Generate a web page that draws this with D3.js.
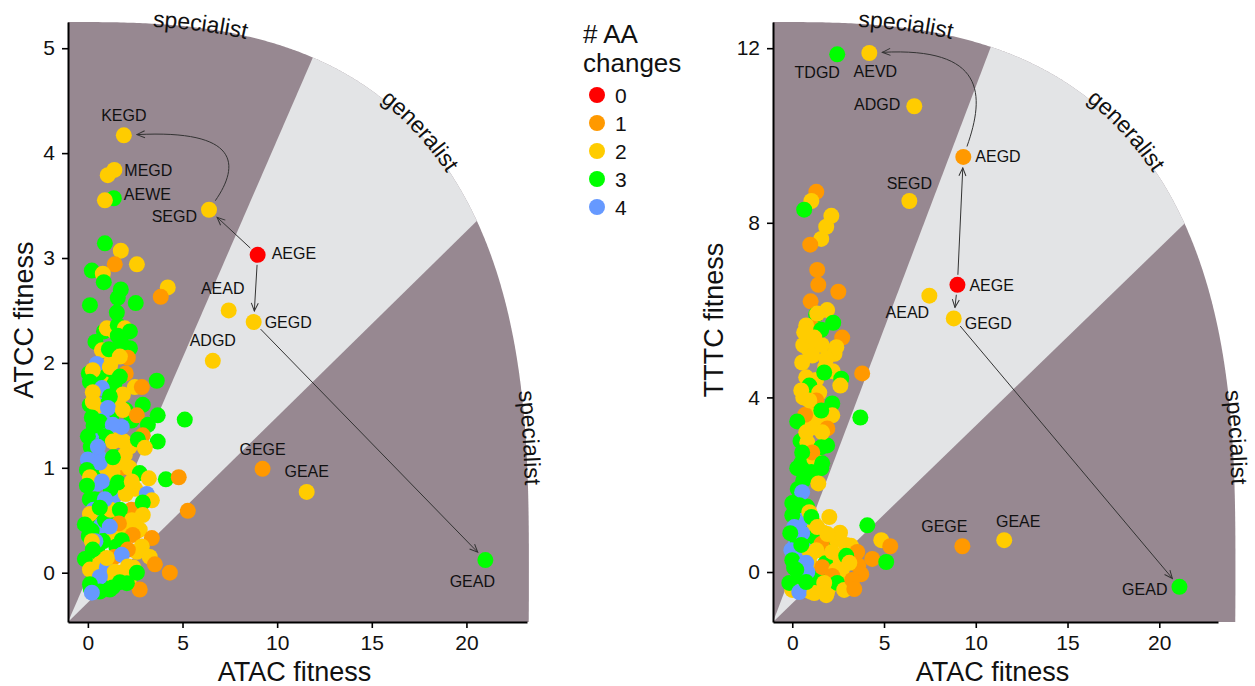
<!DOCTYPE html>
<html>
<head>
<meta charset="utf-8">
<script src="https://cdn.jsdelivr.net/npm/d3@7"></script>
<style>
  body { margin: 0; background: #fff; }
  svg { display: block; font-family: "Liberation Sans", Arial, sans-serif; }
</style>
</head>
<body>
<div id="chart"></div>
<script>
// ---------------- data ----------------
const aaLevels = [0, 1, 2, 3, 4];
const aaColors = ["#ff0000", "#ff9900", "#ffcc00", "#00ff00", "#6699ff"];
const xTicks = [0, 5, 10, 15, 20];
const atccTicks = [0, 1, 2, 3, 4, 5];
const tttcTicks = [0, 4, 8, 12];
const regionNames = ["specialist", "generalist", "specialist"];

// [ATAC fitness, ATCC fitness, # AA changes]
const atccCloud = [
  [0.05,1.9,3],[0.35,1.75,3],[0.7,1.6,3],[1.25,1.5,3],[0.45,1.05,3],[0.75,0.95,3],[0.05,0.35,3],
  [0.45,0.5,3],[1.05,0.35,3],[1.3,0.55,3],[0.15,-0.15,3],[0.95,-0.05,3],[1.9,0.55,3],[2.3,1.45,3],
  [1.75,2.2,3],[0.85,2.3,3],[0.4,2.2,3],[1.1,1.9,3],[2.0,1.55,3],[0.55,0.0,3],
  [1.2,2.0,2],[1.6,1.6,2],[2.2,1.2,2],[2.5,0.8,2],[1.6,0.8,2],[0.95,1.0,2],[2.1,0.4,2],[1.4,0.35,2],
  [2.6,0.2,2],[0.35,0.15,2],[1.25,-0.05,2],[2.2,-0.05,2],[0.85,1.8,2],[1.4,2.3,2],
  [0.25,1.3,4],[0.55,1.6,4],[0.2,0.85,4],[0.7,0.45,4],[0.35,-0.18,4],[1.3,0.7,4],
  [1.8,1.0,1],[2.0,1.9,1],
  [0.1,1.6,3],[0.3,1.4,3],[0.5,1.2,3],[0.2,1.0,3],[0.4,0.7,3],[0.2,0.4,3],[0.5,0.2,3],[0.3,-0.05,3],
  [0.8,0.3,3],[1.2,0.8,3],[1.0,1.6,3],[0.6,1.9,3],[1.4,1.1,3],[0.9,0.5,3],[1.5,0.25,3],[0.7,-0.12,3],
  [1.3,-0.14,3],[0.4,-0.16,3],[0.9,1.35,3],[1.4,1.8,3],[0.1,0.7,3],[0.15,1.2,3],
  [1.5,1.35,2],[1.7,1.05,2],[2.0,0.75,2],[1.9,0.35,2],[1.2,0.6,2],[0.6,1.55,2],[1.7,0.0,2],[2.4,0.05,2],
  [1.3,0.95,2],[0.7,0.1,2],[2.2,1.0,2],[1.9,1.25,2],
  [0.5,0.85,4],[0.3,0.6,4],[0.8,1.45,4],[0.4,0.3,4],[1.0,0.05,4],[0.6,1.1,4],[0.9,0.7,4],[0.3,-0.1,4],
  [2.6,0.4,1],[1.4,0.15,1],[2.3,0.6,1],
  [0.90,3.14,3],[1.74,3.07,2],[1.42,2.94,1],[2.59,2.94,2],[0.21,2.88,3],[0.79,2.85,2],[0.84,2.77,3],
  [4.22,2.72,2],[3.85,2.63,1],[1.74,2.70,3],[1.58,2.62,3],[2.53,2.57,3],[0.11,2.55,3],[1.53,2.48,3],
  [1.00,2.33,2],[1.58,2.36,3],[1.95,2.33,2],[2.22,2.30,3],[1.58,2.26,3],[0.74,2.12,2],[1.11,2.13,3],
  [2.22,2.14,3],[2.11,2.05,1],[1.69,2.06,2],[0.47,1.99,4],[0.26,1.93,2],[1.16,1.96,2],[1.69,1.87,3],
  [0.11,1.82,3],[3.64,1.83,3],[2.48,1.77,2],[2.85,1.77,1],[0.74,1.76,4],[0.26,1.72,2],[1.85,1.70,2],
  [1.16,1.68,3],[0.26,1.63,2],[2.90,1.60,3],[1.06,1.57,4],[1.85,1.55,2],[2.59,1.50,1],[3.69,1.50,3],
  [5.12,1.46,3],[0.21,1.48,3],[0.63,1.44,3],[1.79,1.39,4],[1.32,1.41,4],[3.17,1.41,3],[0.00,1.30,3],
  [1.00,1.29,3],[2.90,1.31,1],[1.32,1.25,2],[3.69,1.25,3],[2.64,1.27,3],[3.01,1.19,2],[0.53,1.20,4],
  [0.00,1.08,4],[1.95,1.12,2],[0.63,1.05,4],[1.32,1.10,3],[-0.05,0.98,3],[0.11,0.91,2],[2.74,0.95,3],
  [3.22,0.90,2],[4.12,0.89,3],[4.80,0.91,1],[0.74,0.87,4],[1.58,0.86,3],[2.32,0.87,2],[-0.05,0.83,3],
  [3.11,0.75,4],[3.38,0.69,2],[2.90,0.67,3],[5.28,0.59,1],[0.11,0.56,2],[0.63,0.62,3],[1.69,0.60,3],
  [2.90,0.55,2],[2.32,0.50,2],[1.64,0.47,1],[-0.16,0.46,3],[1.16,0.44,4],[2.74,0.41,2],[2.37,0.36,1],
  [3.38,0.33,1],[1.79,0.31,3],[0.21,0.30,2],[2.85,0.25,2],[2.11,0.22,1],[0.26,0.22,3],[1.79,0.17,4],
  [1.00,0.14,2],[3.27,0.15,2],[-0.16,0.13,3],[3.54,0.08,1],[2.11,0.06,2],[4.33,0.00,1],[0.11,0.03,2],
  [2.59,0.00,3],[1.42,0.01,2],[0.63,-0.04,4],[1.69,-0.09,3],[0.11,-0.11,3],[2.74,-0.16,1],[0.63,-0.18,3],
  [1.16,-0.16,3],[0.21,-0.19,4],[2.06,-0.10,3],[1.05,3.79,2],[0.90,3.55,2]
];

// [name, ATAC fitness, ATCC fitness, # AA changes]
const atccMarked = [
  ["KEGD",1.90,4.17,2],["MEGD",1.40,3.84,2],["AEWE",1.37,3.57,3],["SEGD",6.40,3.46,2],
  ["AEGE",8.97,3.03,0],["AEAD",7.44,2.50,2],["GEGD",8.76,2.39,2],["ADGD",6.60,2.02,2],
  ["GEGE",9.23,0.99,1],["GEAE",11.56,0.77,2],["GEAD",21.0,0.12,3]
];
const atccSteps = [["AEGE","SEGD"],["AEGE","GEGD"],["GEGD","GEAD"]];
const atccCurved = [["SEGD","KEGD"]];

// [ATAC fitness, TTTC fitness, # AA changes]
const tttcCloud = [
  [0.1,0.1,3],[0.4,0.4,2],[0.7,0.8,3],[1.0,0.15,2],[1.3,-0.3,3],[1.7,0.9,2],[2.0,0.55,3],[2.3,0.2,2],
  [2.7,0.05,2],[3.0,-0.2,2],[0.25,-0.35,3],[0.6,-0.35,2],[1.0,-0.45,2],[1.5,-0.1,3],[0.15,0.6,4],
  [0.45,1.0,3],[0.8,1.5,3],[1.2,1.1,2],[0.3,1.9,3],[2.4,0.75,2],[3.2,0.6,2],[3.6,0.15,1],[1.9,-0.45,2],
  [0.65,0.55,4],[0.5,2.5,3],[1.2,2.6,2],[0.9,3.4,2],[1.6,3.45,2],[0.6,4.0,2],[1.3,4.4,2],[2.2,4.6,2],
  [0.6,5.2,2],[1.6,5.2,2],[1.9,6.0,2],[1.0,6.2,1],[0.45,3.0,3],
  [0.3,0.7,3],[0.6,0.3,2],[1.2,0.8,3],[0.2,0.3,4],[1.5,0.5,2],[0.9,-0.2,3],[2.6,0.9,2],[1.8,0.2,3],
  [0.5,1.2,4],[0.9,5.1,2],[1.3,5.9,3],[1.8,4.7,2],[1.1,5.6,1],[1.2,3.6,2],[0.7,3.6,1],[2.3,5.0,2],
  [1.9,2.9,3],[1.6,0.65,1],[2.1,-0.3,2],[0.4,-0.1,3],[1.0,0.4,2],[0.2,1.6,3],[0.6,2.1,3],
  [1.31,8.71,1],[1.04,8.50,2],[0.65,8.30,3],[2.13,8.16,2],[1.85,7.91,2],[1.58,7.63,2],[0.98,7.50,1],
  [1.36,6.92,1],[1.42,6.58,1],[2.51,6.42,1],[1.36,5.92,2],[0.76,5.65,2],[2.23,5.71,3],[1.58,5.55,3],
  [2.72,5.37,1],[0.65,5.49,2],[1.20,5.37,2],[2.40,5.15,2],[3.81,4.55,1],[0.54,4.80,2],[1.09,4.96,2],
  [1.85,4.89,2],[1.74,4.57,3],[0.76,4.46,2],[2.67,4.43,3],[2.62,4.27,2],[0.93,4.27,3],[0.49,4.16,2],
  [1.47,4.11,2],[1.31,3.93,1],[2.18,3.86,3],[0.93,3.93,2],[2.18,3.59,2],[3.71,3.54,3],[0.27,3.45,3],
  [1.58,3.70,3],[1.31,3.31,2],[0.76,3.20,2],[1.91,3.29,1],[1.63,3.20,2],[0.82,2.97,2],[1.58,2.86,3],
  [1.09,2.74,1],[0.54,2.74,3],[1.63,2.49,3],[0.27,2.38,3],[1.04,2.29,3],[1.58,2.38,3],[1.42,2.03,2],
  [0.54,1.83,4],[0.00,1.58,3],[0.38,1.53,3],[0.00,1.30,3],[0.93,1.37,2],[1.04,1.26,3],[2.02,1.26,2],
  [4.09,1.07,3],[0.11,1.03,4],[1.36,1.03,2],[0.54,0.89,4],[1.91,0.87,2],[-0.11,0.89,3],[4.85,0.73,2],
  [5.34,0.59,1],[-0.05,0.50,4],[1.31,0.50,2],[2.94,0.62,2],[0.49,0.62,3],[2.18,0.46,2],[3.54,0.46,1],
  [4.36,0.30,1],[2.94,0.37,3],[5.12,0.23,3],[3.11,0.21,2],[0.00,0.27,3],[0.76,0.21,4],[1.63,0.11,1],
  [2.40,0.05,2],[3.76,-0.05,1],[2.18,-0.09,1],[0.82,0.00,4],[0.22,0.05,3],[2.45,-0.25,3],[1.74,-0.25,2],
  [2.83,-0.41,2],[3.27,-0.18,1],[3.38,-0.39,1],[0.00,-0.41,2],[-0.16,-0.25,3],[0.38,-0.46,4],
  [1.20,-0.48,2],[1.85,-0.53,2],[0.76,-0.23,3]
];

// [name, ATAC fitness, TTTC fitness, # AA changes]
const tttcMarked = [
  ["TDGD",2.45,11.86,3],["AEVD",4.20,11.89,2],["ADGD",6.65,10.67,2],["AEGD",9.32,9.51,1],
  ["SEGD",6.38,8.50,2],["AEGE",9.00,6.58,0],["AEAD",7.47,6.33,2],["GEGD",8.80,5.81,2],
  ["GEGE",9.27,0.59,1],["GEAE",11.55,0.73,2],["GEAD",21.1,-0.34,3]
];
const tttcSteps = [["AEGE","AEGD"],["AEGE","GEGD"],["GEGD","GEAD"]];
const tttcCurved = [["AEGD","AEVD"]];

// ---------------- layout ----------------
// label nudges in px: [dx, dy, anchor]
const atccLabelPos = {
  KEGD: [0, -14, "middle"], MEGD: [10, 6, "start"], AEWE: [10, 2, "start"],
  SEGD: [-12, 12, "end"], AEGE: [14, 4, "start"], AEAD: [-6, -16, "middle"],
  GEGD: [11, 6, "start"], ADGD: [0, -15, "middle"], GEGE: [0, -14, "middle"],
  GEAE: [0, -15, "middle"], GEAD: [-13, 27, "middle"]
};
const tttcLabelPos = {
  TDGD: [-20, 24, "middle"], AEVD: [6, 24, "middle"], ADGD: [-14, 4, "end"],
  AEGD: [12, 5, "start"], SEGD: [0, -12, "middle"], AEGE: [12, 6, "start"],
  AEAD: [-22, 22, "middle"], GEGD: [11, 11, "start"], GEGE: [-18, -14, "middle"],
  GEAE: [14, -13, "middle"], GEAD: [-12, 8, "end"]
};

const W = 1255, H = 686, R = 8;
const svg = d3.select("#chart").append("svg").attr("width", W).attr("height", H);
svg.append("rect").attr("width", W).attr("height", H).attr("fill", "#fff");

const defs = svg.append("defs");
defs.append("marker")
    .attr("id", "head")
    .attr("viewBox", "-9 -5 10 10")
    .attr("markerUnits", "userSpaceOnUse")
    .attr("markerWidth", 10).attr("markerHeight", 10)
    .attr("refX", 0).attr("refY", 0)
    .attr("orient", "auto")
  .append("path")
    .attr("d", "M-8,-3.5 L0,0 L-8,3.5")
    .attr("fill", "none").attr("stroke", "#333").attr("stroke-width", 1);

const color = d3.scaleOrdinal().domain(aaLevels).range(aaColors);

class FanPanel {
  constructor(id, box, yDomain, yTicks, yTitle, titleGap, fanR, slopes) {
    this.id = id;
    this.box = box;
    this.x = d3.scaleLinear().domain([-1.05, 23.2]).range([box.x0, box.x1]);
    this.y = d3.scaleLinear().domain(yDomain).range([box.y1, box.y0]);
    this.g = svg.append("g");
    this.drawFan(fanR, slopes);
    this.drawAxes(yTicks, yTitle, titleGap);
  }

  drawFan(fanR, slopes) {
    const x = this.x, y = this.y, box = this.box, n = 2.8;
    const xmin = x.domain()[0], ymin = y.domain()[0];
    const cx = x(xmin), cy = y(0);
    const rx = x(xmin + fanR[0]) - cx, ry = cy - y(fanR[1]);
    const sp = v => Math.sign(v) * Math.pow(Math.abs(v), 2 / n);
    const pt = deg => {
      const t = deg * Math.PI / 180;
      return [cx + rx * sp(Math.cos(t)), cy - ry * sp(Math.sin(t))];
    };
    const tBot = -Math.asin(Math.pow((box.y1 - cy) / ry, n / 2)) * 180 / Math.PI;
    const step = 0.25;
    const arc = d3.range(90, tBot - 1e-6, -step).map(pt);
    arc.push([pt(tBot)[0], box.y1]);
    const apex = [box.x0, box.y1];
    const fan = [apex].concat(arc.slice().reverse());

    defs.append("clipPath").attr("id", "clip-" + this.id)
      .append("path").attr("d", d3.line()(fan) + "Z");

    this.g.append("path").attr("d", d3.line()(fan) + "Z").attr("fill", "#978891");

    const far = 60;
    const wedge = [
      apex,
      [x(xmin + far), y(ymin + far * slopes[0])],
      [x(xmin + far), y(ymin + far * slopes[1])]
    ];
    this.g.append("path").attr("d", d3.line()(wedge) + "Z")
      .attr("fill", "#e3e4e6").attr("clip-path", `url(#clip-${this.id})`);

    // text along the outer edge
    const cum = [0];
    for (let i = 1; i < arc.length; i++) {
      cum.push(cum[i - 1] + Math.hypot(arc[i][0] - arc[i - 1][0], arc[i][1] - arc[i - 1][1]));
    }
    this.g.append("path").attr("id", "edge-" + this.id)
      .attr("d", d3.line()(arc)).attr("fill", "none");
    [80, 47, 8].forEach((deg, i) => {
      const k = Math.round((90 - deg) / step);
      this.g.append("text")
        .attr("font-size", 23).attr("fill", "#111")
        .attr("dy", 3)
        .append("textPath")
        .attr("href", "#edge-" + this.id)
        .attr("startOffset", cum[k])
        .attr("text-anchor", "middle")
        .text(regionNames[i]);
    });
  }

  drawAxes(yTicks, yTitle, titleGap) {
    const box = this.box;
    const xa = this.g.append("g").attr("transform", `translate(0,${box.y1})`)
      .call(d3.axisBottom(this.x).tickValues(xTicks).tickFormat(d3.format("d"))
        .tickSize(6).tickSizeOuter(0).tickPadding(7));
    const ya = this.g.append("g").attr("transform", `translate(${box.x0},0)`)
      .call(d3.axisLeft(this.y).tickValues(yTicks).tickFormat(d3.format("d"))
        .tickSize(6).tickSizeOuter(0).tickPadding(7));
    [xa, ya].forEach(a => {
      a.select(".domain").attr("stroke", "#000").attr("stroke-width", 2);
      a.selectAll(".tick line").attr("stroke", "#000").attr("stroke-width", 1.6);
      a.selectAll(".tick text").attr("fill", "#111").attr("font-size", 21)
        .attr("font-family", "Liberation Sans, Arial, sans-serif");
    });
    this.g.append("text")
      .attr("x", (box.x0 + box.x1) / 2 - 3).attr("y", 681)
      .attr("text-anchor", "middle").attr("font-size", 27).attr("fill", "#111")
      .text("ATAC fitness");
    this.g.append("text")
      .attr("transform", `translate(${box.x0 - titleGap},320) rotate(-90)`)
      .attr("text-anchor", "middle").attr("font-size", 27).attr("fill", "#111")
      .text(yTitle);
  }

  drawPoints(cloud, marked, steps, curved, labelPos) {
    const x = this.x, y = this.y;
    const pos = {};
    marked.forEach(d => { pos[d[0]] = [x(d[1]), y(d[2])]; });

    this.g.append("g").selectAll("circle").data(marked).enter().append("circle")
      .attr("cx", d => x(d[1])).attr("cy", d => y(d[2])).attr("r", R)
      .attr("fill", d => color(d[3]));

    this.g.append("g").selectAll("circle").data(cloud).enter().append("circle")
      .attr("cx", d => x(d[0])).attr("cy", d => y(d[1])).attr("r", R)
      .attr("fill", d => color(d[2]));

    const unit = (a, b) => {
      const dx = b[0] - a[0], dy = b[1] - a[1], l = Math.hypot(dx, dy);
      return [dx / l, dy / l];
    };
    const arrows = this.g.append("g").attr("fill", "none").attr("stroke", "#333").attr("stroke-width", 1);
    steps.forEach(s => {
      const a = pos[s[0]], b = pos[s[1]], u = unit(a, b);
      arrows.append("path")
        .attr("d", `M${a[0] + u[0] * 10},${a[1] + u[1] * 10}L${b[0] - u[0] * 11},${b[1] - u[1] * 11}`)
        .attr("marker-end", "url(#head)");
    });
    curved.forEach(s => {
      const a = pos[s[0]], b = pos[s[1]];
      const bx = Math.max(a[0], b[0]) + s[2];
      const c1 = [bx, a[1] + (b[1] - a[1]) * 0.6], c2 = [bx, b[1] - 6];
      const u0 = unit(a, c1), u1 = unit(b, c2);
      const p0 = [a[0] + u0[0] * 11, a[1] + u0[1] * 11];
      const p3 = [b[0] + u1[0] * 13, b[1] + u1[1] * 13];
      arrows.append("path")
        .attr("d", `M${p0}C${c1} ${c2} ${p3}`)
        .attr("marker-end", "url(#head)");
    });

    this.g.append("g").selectAll("text").data(marked).enter().append("text")
      .attr("x", d => x(d[1]) + labelPos[d[0]][0])
      .attr("y", d => y(d[2]) + labelPos[d[0]][1])
      .attr("text-anchor", d => labelPos[d[0]][2])
      .attr("font-size", 16).attr("fill", "#111")
      .text(d => d[0]);
  }
}

const left = new FanPanel("atcc", {x0: 68, x1: 527, y0: 22, y1: 622},
  [-0.47, 5.25], atccTicks, "ATCC fitness", 35, [24.35, 5.25], [0.177, 0.416]);
left.drawPoints(atccCloud, atccMarked, atccSteps, atccCurved.map(c => c.concat(31)), atccLabelPos);

const right = new FanPanel("tttc", {x0: 773, x1: 1218, y0: 22, y1: 622},
  [-1.145, 12.6], tttcTicks, "TTTC fitness", 50, [25.2, 12.6], [0.407, 1.11]);
right.drawPoints(tttcCloud, tttcMarked, tttcSteps, tttcCurved.map(c => c.concat(22)), tttcLabelPos);

// legend
const legend = svg.append("g").attr("transform", "translate(583,0)");
legend.append("text").attr("x", 0).attr("y", 43).attr("font-size", 26).attr("fill", "#111").text("# AA");
legend.append("text").attr("x", 0).attr("y", 72).attr("font-size", 26).attr("fill", "#111").text("changes");
const item = legend.selectAll("g.item").data(aaLevels).enter().append("g")
  .attr("class", "item")
  .attr("transform", (d, i) => `translate(0,${95 + i * 28})`);
item.append("circle").attr("cx", 14).attr("cy", 0).attr("r", R).attr("fill", d => color(d));
item.append("text").attr("x", 32).attr("y", 7.5).attr("font-size", 21).attr("fill", "#111").text(d => d);
</script>
</body>
</html>
